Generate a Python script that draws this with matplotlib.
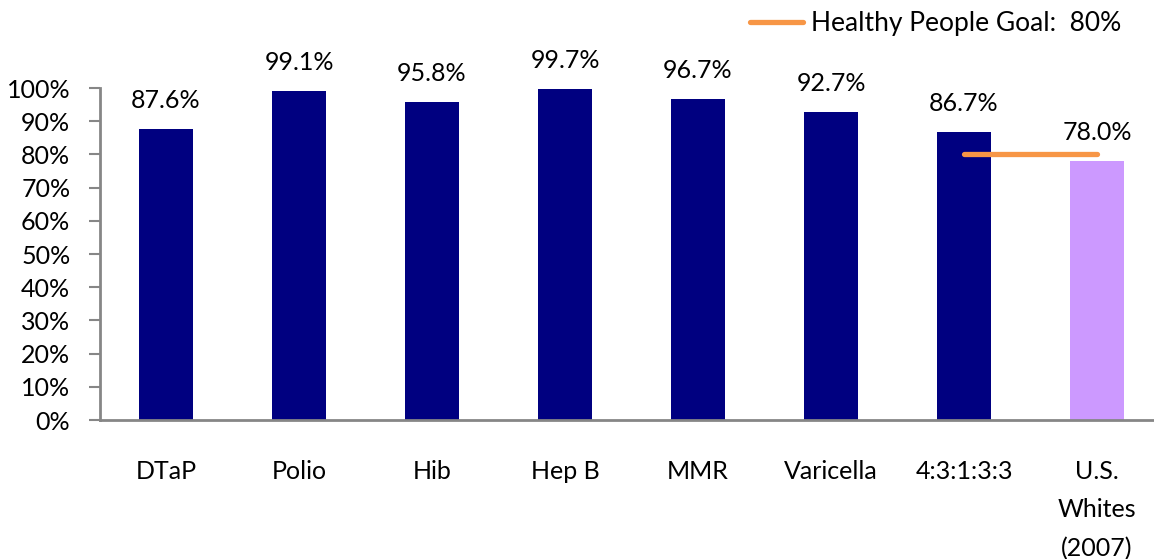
import matplotlib
matplotlib.use("Agg")
import matplotlib.pyplot as plt
from matplotlib.lines import Line2D

plt.rcParams['font.family'] = ['Lato', 'DejaVu Sans']

categories = ["DTaP", "Polio", "Hib", "Hep B", "MMR", "Varicella", "4:3:1:3:3", "U.S.\nWhites\n(2007)"]
coverage = [87.6, 99.1, 95.8, 99.7, 96.7, 92.7, 86.7, 78.0]
bar_colors = ["#000080"] * 7 + ["#CC99FF"]
goal_value = 80
goal_span = [6, 7]
y_ticks = list(range(0, 101, 10))
y_tick_labels = [f"{t}%" for t in y_ticks]

W, H = 1154, 559
fig = plt.figure(figsize=(W / 100, H / 100), dpi=100)
left, right = 99.5, 1163.5
bottom, top = 420, 88
ax = fig.add_axes([left / W, 1 - bottom / H, (right - left) / W, (bottom - top) / H])

x = list(range(len(categories)))
ax.bar(x, coverage, width=0.4, color=bar_colors, zorder=2)
for xi, v in zip(x, coverage):
    ax.annotate(f"{v:.1f}%", (xi, v), xytext=(0, 17), textcoords="offset pixels",
                ha="center", va="bottom", fontsize=18, color="black")

ax.plot(goal_span, [goal_value, goal_value], color="#F79646", lw=3.8,
        solid_capstyle="round", zorder=3)

ax.set_xlim(-0.5, 7.5)
ax.set_ylim(0, 100)
ax.set_yticks(y_ticks)
ax.set_yticklabels(y_tick_labels, fontsize=18)
ax.set_xticks(x)
ax.set_xticklabels(categories, fontsize=18, linespacing=1.8)
ax.tick_params(axis="x", length=0, pad=29)
ax.tick_params(axis="y", length=8, width=1.5, color="#868686", pad=13)

for side in ("top", "right"):
    ax.spines[side].set_visible(False)
for side in ("left", "bottom"):
    ax.spines[side].set_color("#868686")
    ax.spines[side].set_linewidth(2)

legend_handle = Line2D([0], [0], color="#F79646", lw=3.8, solid_capstyle="round")
fig.legend([legend_handle], ["Healthy People Goal:  80%"], loc="center left",
           bbox_to_anchor=(750 / W, 1 - 24 / H), frameon=False, fontsize=19,
           handlelength=2.0, handletextpad=0.3, borderaxespad=0, borderpad=0)

fig.savefig("out.png", dpi=100)
